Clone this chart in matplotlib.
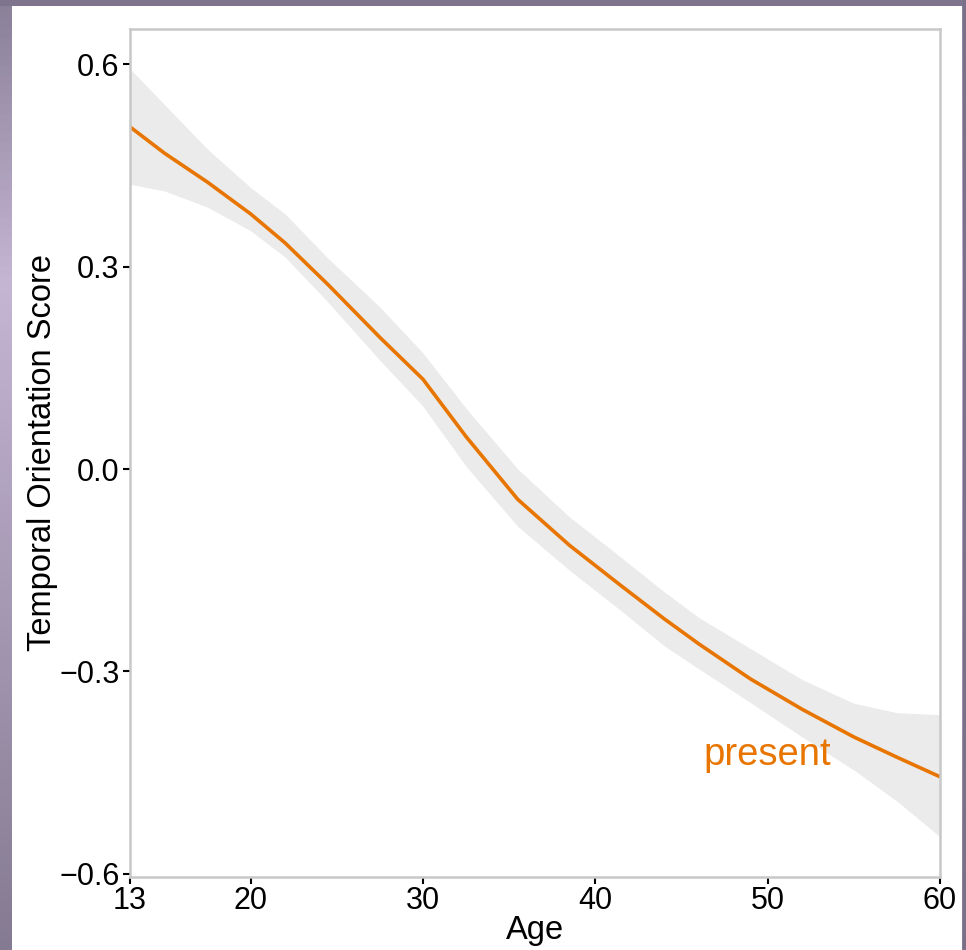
import numpy as np
import matplotlib
matplotlib.use("Agg")
import matplotlib.pyplot as plt
from matplotlib.patches import Rectangle

plt.rcParams['font.family'] = ['Liberation Sans', 'DejaVu Sans']

# Data
age = [13, 15, 17.5, 20, 22, 24.5, 27.5, 30, 32.5, 35.5, 38.5, 41.5, 44, 46, 49, 52, 55, 57.5, 60]
fit = [0.507, 0.468, 0.425, 0.378, 0.335, 0.273, 0.195, 0.133, 0.048, -0.045, -0.113, -0.173,
       -0.222, -0.259, -0.311, -0.356, -0.397, -0.427, -0.456]
upper = [0.593, 0.540, 0.474, 0.417, 0.378, 0.312, 0.240, 0.172, 0.090, 0.000, -0.071, -0.131,
         -0.182, -0.220, -0.266, -0.312, -0.347, -0.361, -0.364]
lower = [0.422, 0.412, 0.388, 0.353, 0.314, 0.247, 0.161, 0.093, 0.004, -0.085, -0.150, -0.210,
         -0.262, -0.296, -0.346, -0.397, -0.446, -0.492, -0.545]

xticks = [13, 20, 30, 40, 50, 60]
yticks = [-0.6, -0.3, 0.0, 0.3, 0.6]
yticklabels = ["\u22120.6", "\u22120.3", "0.0", "0.3", "0.6"]
series_label = "present"

W, H = 966, 950
fig = plt.figure(figsize=(W / 100, H / 100), dpi=100)
fig.patch.set_facecolor("#857a92")

# background: purple frame with a light gradient on the left
bg = fig.add_axes([0, 0, 1, 1], zorder=-10)
grad = np.concatenate([np.linspace(0.1, 1, 30), np.linspace(1, 0, 70)])
cols = np.array([[0.52, 0.48, 0.57], [0.77, 0.71, 0.83]])
img = cols[0][None, :] * (1 - grad[:, None]) + cols[1][None, :] * grad[:, None]
bg.imshow(img[:, None, :], aspect='auto', extent=[0, 1, 0, 1], origin='upper')
bg.set_xlim(0, 1)
bg.set_ylim(0, 1)
bg.axis('off')
bg.add_patch(Rectangle((12 / W, 0), (962 - 12) / W, 1 - 6 / H, facecolor='white', edgecolor='none'))
bg.add_patch(Rectangle((0, 1 - 6 / H), 1, 6 / H, facecolor='#7f748d', edgecolor='none'))
bg.add_patch(Rectangle((963 / W, 0), 1, 1, facecolor='#7a7088', edgecolor='none'))

ax = fig.add_axes([130 / W, 1 - 877 / H, (940 - 130) / W, (877 - 29) / H])
ax.set_facecolor('white')
ax.fill_between(age, lower, upper, color='#ebebeb', linewidth=0, zorder=1)
ax.plot(age, fit, color='#e87500', linewidth=2.6, zorder=2,
        solid_capstyle='butt', solid_joinstyle='round')
ax.text(50, -0.438, series_label, color='#e87500', fontsize=27.5, ha='center', va='baseline')

ax.set_xlim(13, 60)
ax.set_ylim(-0.6045, 0.652)
ax.set_xticks(xticks)
ax.set_xticklabels([str(t) for t in xticks])
ax.set_yticks(yticks)
ax.set_yticklabels(yticklabels)
ax.tick_params(axis='both', labelsize=22, length=5, width=1.5, color='black', pad=2.5, labelcolor='black')
ax.tick_params(axis='x', pad=1.5)

for s in ax.spines.values():
    s.set_color('#c8c8c8')
    s.set_linewidth(1.8)

ax.set_xlabel("Age", fontsize=23.5, labelpad=-1)
ax.set_ylabel("Temporal Orientation Score", fontsize=23.5, labelpad=1)

fig.savefig("out.png", dpi=100, facecolor=fig.get_facecolor())
